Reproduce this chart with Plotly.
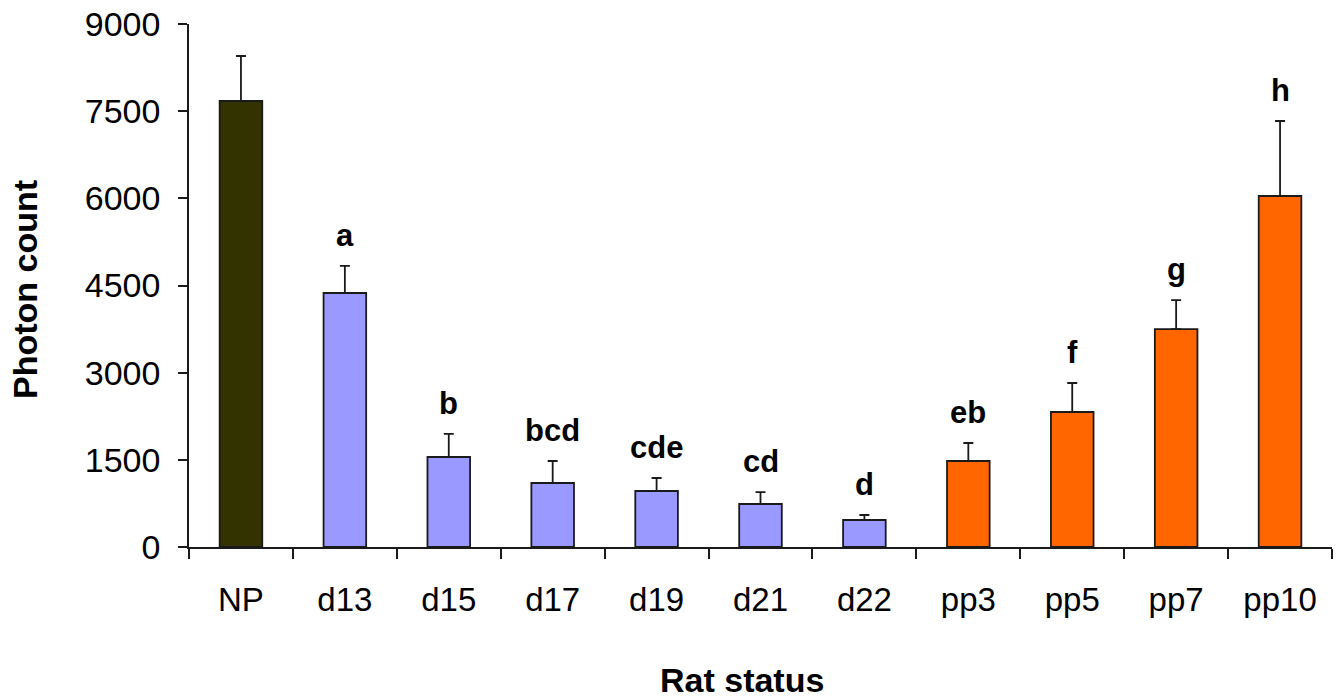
import plotly.graph_objects as go

categories = ["NP", "d13", "d15", "d17", "d19", "d21", "d22", "pp3", "pp5", "pp7", "pp10"]
means = [7675, 4371, 1549, 1101, 964, 740, 465, 1480, 2323, 3751, 6040]
sem = [774, 465, 396, 379, 223, 206, 86, 310, 499, 499, 1291]
letters = ["", "a", "b", "bcd", "cde", "cd", "d", "eb", "f", "g", "h"]
colors = ["#333300"] + ["#9999FF"] * 6 + ["#FF6600"] * 4

FONT = "Liberation Sans, Arial, sans-serif"

fig = go.Figure()
fig.add_trace(go.Bar(
    x=categories, y=means,
    marker=dict(color=colors, line=dict(color="#1a1a1a", width=1.8)),
    error_y=dict(type="data", array=sem, arrayminus=[0] * len(sem), symmetric=False,
                 color="#1a1a1a", thickness=1.8, width=5),
    showlegend=False,
))

for c, m, s, t in zip(categories, means, sem, letters):
    if t:
        fig.add_annotation(x=c, y=m + s, text="<b>%s</b>" % t, showarrow=False,
                           yanchor="bottom", yshift=11,
                           font=dict(family=FONT, size=31, color="black"))

# axis titles
fig.add_annotation(xref="paper", yref="paper", x=0.4834, y=-0.2543,
                   xanchor="center", yanchor="middle", showarrow=False,
                   text="<b>Rat status</b>", font=dict(family=FONT, size=34, color="black"))
fig.add_annotation(xref="paper", yref="paper", x=-0.1435, y=0.4933,
                   xanchor="center", yanchor="middle", showarrow=False, textangle=-90,
                   text="<b>Photon count</b>", font=dict(family=FONT, size=34, color="black"))

fig.update_layout(
    width=1341, height=698,
    margin=dict(l=189, r=9, t=24, b=151),
    paper_bgcolor="white", plot_bgcolor="white",
    bargap=0.59,
    font=dict(family=FONT, color="black"),
)
fig.update_xaxes(
    type="category", tickson="boundaries", ticks="outside", ticklen=10, tickwidth=1.5,
    tickcolor="#1a1a1a", showline=True, linecolor="#1a1a1a", linewidth=1.5,
    showgrid=False, tickfont=dict(size=33, family=FONT), ticklabelstandoff=23,
    automargin=False,
)
fig.update_yaxes(
    range=[0, 9000], dtick=1500, tick0=0, ticks="outside", ticklen=9, tickwidth=1.5,
    tickcolor="#1a1a1a", showline=True, linecolor="#1a1a1a", linewidth=1.5,
    showgrid=False, zeroline=False, tickfont=dict(size=34, family=FONT), ticklabelstandoff=11,
    automargin=False,
)

fig.write_html("out.html", config={"displayModeBar": False},
               post_script="document.body.style.margin='0';document.body.style.overflow='hidden';")
